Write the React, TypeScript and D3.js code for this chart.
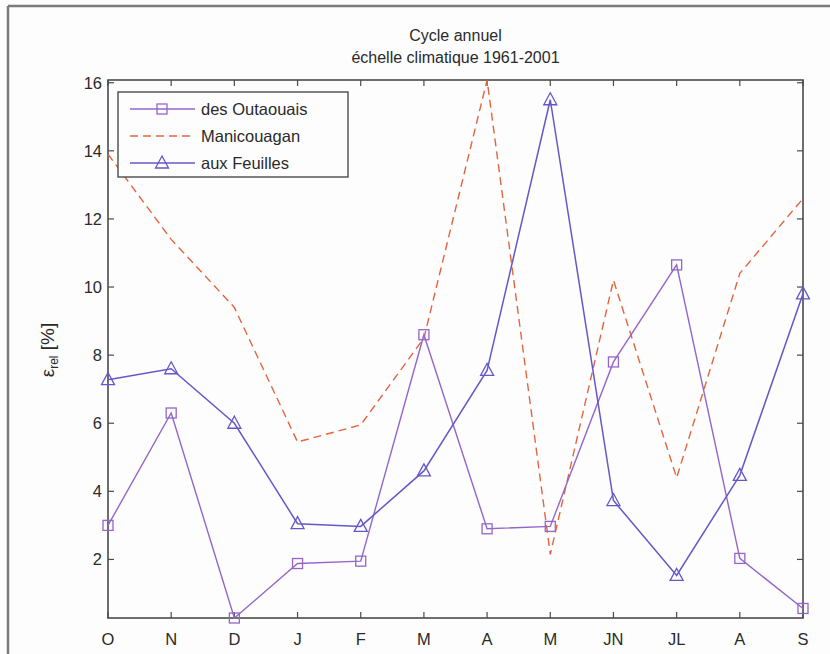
import React from "react";
import * as d3 from "d3";

const months = ["O", "N", "D", "J", "F", "M", "A", "M", "JN", "JL", "A", "S"];
const outaouais = [3.0, 6.3, 0.28, 1.88, 1.95, 8.6, 2.9, 2.97, 7.8, 10.65, 2.03, 0.56];
const manicouagan = [13.9, 11.4, 9.4, 5.45, 5.95, 8.5, 16.08, 2.15, 10.2, 4.4, 10.4, 12.6];
const feuilles = [7.28, 7.6, 6.0, 3.05, 2.97, 4.6, 7.55, 15.5, 3.73, 1.53, 4.47, 9.8];
const yTicks = [2, 4, 6, 8, 10, 12, 14, 16];
const seriesNames = ["des Outaouais", "Manicouagan", "aux Feuilles"];
const titleLines = ["Cycle annuel", "échelle climatique 1961-2001"];

const W = 830, H = 654;
const L = 108, R = 803, T = 80, B = 618;
const colOut = "#9466c8";
const colMan = "#e2653f";
const colFeu = "#6458c8";
const axisCol = "#4a4a4a";
const txtCol = "#2a2a2a";
const font = "Liberation Sans, Arial, Helvetica, sans-serif";

export default function App() {
  const x = d3.scalePoint<number>().domain(d3.range(months.length)).range([L, R]);
  const all = [...outaouais, ...manicouagan, ...feuilles];
  const [mn, mx] = d3.extent(all) as [number, number];
  const y = d3.scaleLinear().domain([mn, mx]).range([B, T]);
  const line = d3.line<number>().x((_, i) => x(i)!).y((v) => y(v));

  const square = (cx: number, cy: number, c: string, k: string) => (
    <rect key={k} x={cx - 5} y={cy - 5} width={10} height={10} fill="none" stroke={c} strokeWidth={1.3} />
  );
  const tri = (cx: number, cy: number, c: string, k: string) => (
    <path key={k} d={`M${cx},${cy - 7}L${cx + 6.5},${cy + 5}L${cx - 6.5},${cy + 5}Z`} fill="none" stroke={c} strokeWidth={1.3} />
  );

  const legY = [109, 136, 163];
  return (
    <div style={{ position: "fixed", left: 0, top: 0 }}>
      <svg width={W} height={H} style={{ display: "block", background: "#fdfdfd" }}>
        <rect x={0} y={0} width={W} height={H} fill="#fdfdfd" />
        <line x1={8} y1={6} x2={W} y2={6} stroke="#7a7a7a" strokeWidth={2.5} />
        <line x1={8} y1={6} x2={8} y2={H} stroke="#7a7a7a" strokeWidth={2.5} />

        {titleLines.map((t, i) => (
          <text key={t} x={(L + R) / 2} y={41 + i * 22} textAnchor="middle" fontFamily={font} fontSize={16} fill={txtCol}>
            {t}
          </text>
        ))}

        {/* axes box */}
        <rect x={L} y={T} width={R - L} height={B - T} fill="none" stroke={axisCol} strokeWidth={1.6} />
        {yTicks.map((t) => (
          <g key={t}>
            <line x1={L} x2={L + 6} y1={y(t)} y2={y(t)} stroke={axisCol} strokeWidth={1.2} />
            <line x1={R} x2={R - 6} y1={y(t)} y2={y(t)} stroke={axisCol} strokeWidth={1.2} />
            <text x={L - 6} y={y(t) + 6} textAnchor="end" fontFamily={font} fontSize={16.5} fill={txtCol}>
              {t}
            </text>
          </g>
        ))}
        {months.map((m, i) => (
          <g key={i}>
            <line x1={x(i)} x2={x(i)} y1={B} y2={B - 6} stroke={axisCol} strokeWidth={1.2} />
            <line x1={x(i)} x2={x(i)} y1={T} y2={T + 6} stroke={axisCol} strokeWidth={1.2} />
            <text x={x(i)} y={B + 27} textAnchor="middle" fontFamily={font} fontSize={16.5} fill={txtCol}>
              {m}
            </text>
          </g>
        ))}

        <text transform={`translate(54,350) rotate(-90)`} textAnchor="middle" fontFamily={font} fontSize={19} fill={txtCol}>
          ε<tspan fontSize={12} dy={4}>rel</tspan>
          <tspan dy={-4}> [%]</tspan>
        </text>

        {/* series */}
        <path d={line(manicouagan)!} fill="none" stroke={colMan} strokeWidth={1.4} strokeDasharray="8,5" />
        <path d={line(outaouais)!} fill="none" stroke={colOut} strokeWidth={1.4} />
        {outaouais.map((v, i) => square(x(i)!, y(v), colOut, "o" + i))}
        <path d={line(feuilles)!} fill="none" stroke={colFeu} strokeWidth={1.5} />
        {feuilles.map((v, i) => tri(x(i)!, y(v), colFeu, "f" + i))}

        {/* legend */}
        <rect x={118} y={92} width={230} height={85} fill="#fdfdfd" stroke={axisCol} strokeWidth={1.4} />
        <line x1={130} x2={195} y1={legY[0]} y2={legY[0]} stroke={colOut} strokeWidth={1.4} />
        {square(162, legY[0], colOut, "lo")}
        <line x1={130} x2={195} y1={legY[1]} y2={legY[1]} stroke={colMan} strokeWidth={1.4} strokeDasharray="8,5" />
        <line x1={130} x2={195} y1={legY[2]} y2={legY[2]} stroke={colFeu} strokeWidth={1.5} />
        {tri(162, legY[2], colFeu, "lf")}
        {seriesNames.map((s, i) => (
          <text key={s} x={201} y={legY[i] + 6} fontFamily={font} fontSize={16.5} fill={txtCol}>
            {s}
          </text>
        ))}
      </svg>
    </div>
  );
}
